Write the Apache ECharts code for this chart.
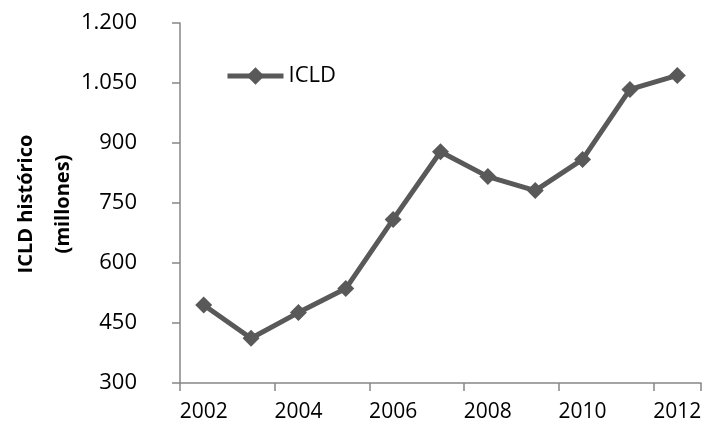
<!DOCTYPE html>
<html>
<head>
<meta charset="utf-8">
<script src="https://cdn.jsdelivr.net/npm/echarts@6/dist/echarts.min.js"></script>
<style>
  html, body { margin: 0; padding: 0; background: #ffffff; }
  #chart { width: 707px; height: 427px; }
</style>
</head>
<body>
<div id="chart"></div>
<script>
// Years on the category axis
const years = ['2002', '2003', '2004', '2005', '2006', '2007', '2008', '2009', '2010', '2011', '2012'];
// ICLD histórico, millones
const icld = [495, 412, 476, 536, 709, 878, 816, 781, 859, 1034, 1069];
// Value axis range and title
const yMin = 300;
const yMax = 1200;
const yStep = 150;
const yTitle = 'ICLD histórico\n(millones)';

const FONT = '"Open Sans", "Liberation Sans", sans-serif';
const AXIS_GREY = '#868686';
const LINE_GREY = '#595959';

// Thousands separator as a dot: 1200 -> "1.200"
function fmtThousands(v) {
  return String(v).replace(/\B(?=(\d{3})+(?!\d))/g, '.');
}

const chart = echarts.init(document.getElementById('chart'), null, { renderer: 'canvas' });

chart.setOption({
  animation: false,
  backgroundColor: '#ffffff',
  grid: { left: 180, right: 6, top: 23, bottom: 44, containLabel: false, outerBoundsMode: 'none' },
  // Rotated two-line title of the value axis
  graphic: [{
    type: 'text',
    x: 45,
    y: 204,
    rotation: Math.PI / 2,
    style: {
      text: yTitle,
      fontFamily: FONT,
      fontSize: 20,
      fontWeight: 'bold',
      fill: '#000000',
      lineHeight: 37,
      align: 'center',
      verticalAlign: 'middle'
    }
  }],
  legend: {
    left: 220,
    top: 60,
    itemWidth: 56,
    itemHeight: 22,
    itemGap: 4,
    lineStyle: { width: 5, color: LINE_GREY },
    textStyle: { fontFamily: FONT, fontSize: 22, color: '#000000' },
    data: ['ICLD']
  },
  xAxis: {
    type: 'category',
    data: years,
    boundaryGap: true,
    axisLine: { lineStyle: { color: AXIS_GREY, width: 1.5 } },
    axisTick: { show: true, interval: 1, length: 8, lineStyle: { color: AXIS_GREY, width: 1.5 } },
    axisLabel: {
      interval: 1,
      margin: 19,
      fontFamily: FONT,
      fontSize: 21,
      color: '#000000'
    },
    splitLine: { show: false }
  },
  yAxis: {
    type: 'value',
    min: yMin,
    max: yMax,
    interval: yStep,
    axisLine: { show: true, lineStyle: { color: AXIS_GREY, width: 1.5 } },
    axisTick: { show: true, length: 8, lineStyle: { color: AXIS_GREY, width: 1.5 } },
    axisLabel: {
      margin: 43,
      fontFamily: FONT,
      fontSize: 22,
      color: '#000000',
      formatter: fmtThousands
    },
    splitLine: { show: false }
  },
  series: [{
    name: 'ICLD',
    type: 'line',
    data: icld,
    symbol: 'diamond',
    symbolSize: 17,
    lineStyle: { color: LINE_GREY, width: 5 },
    itemStyle: { color: LINE_GREY }
  }]
});
</script>
</body>
</html>
